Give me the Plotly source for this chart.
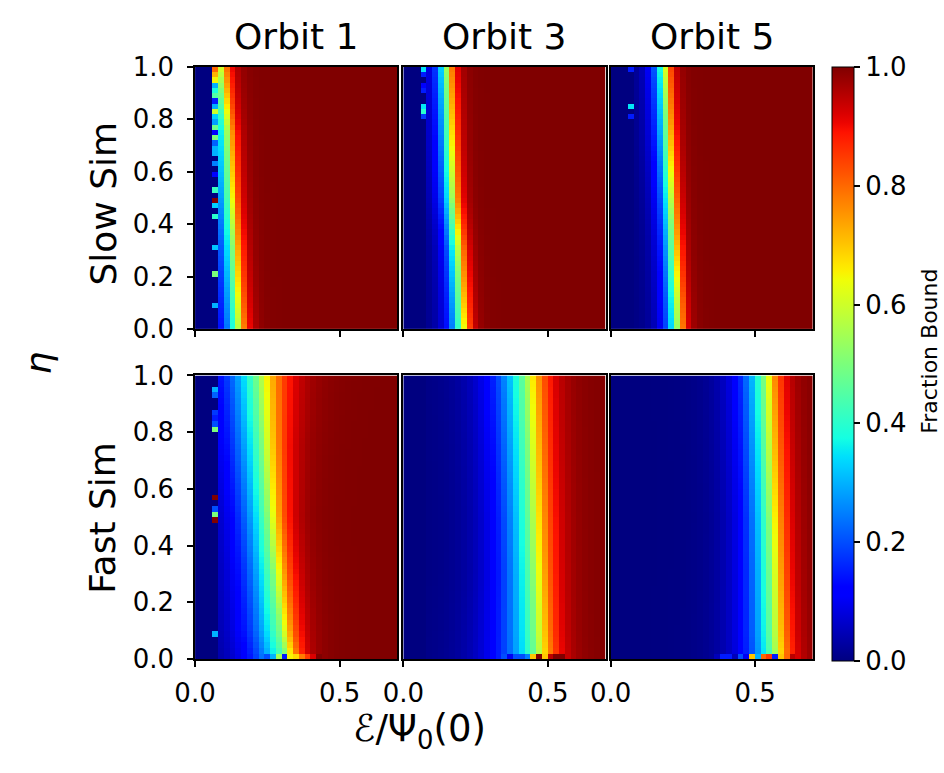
import numpy as np
import plotly.graph_objects as go

# ---------------- data ----------------
E_EDGES_MAX = 0.70          # energy axis E/Psi0(0): 35 bins of width 0.02
N_E = 35
N_ETA = 50                  # eta: 50 bins of width 0.02
ETA_KNOTS = [0.0, 0.1, 0.3, 0.5, 0.75, 1.0]

# transition (fraction bound = 0.5) location at the eta knots, and
# low-side / high-side widths, per panel
slow_o1_center = [0.145, 0.140, 0.130, 0.118, 0.107, 0.080]
slow_o1_wlo = [0.030, 0.030, 0.030, 0.030, 0.030, 0.028]
slow_o1_whi = [0.020, 0.020, 0.020, 0.020, 0.020, 0.022]

slow_o3_center = [0.200, 0.195, 0.185, 0.167, 0.157, 0.147]
slow_o3_wlo = [0.027, 0.026, 0.025, 0.025, 0.025, 0.024]
slow_o3_whi = [0.018, 0.018, 0.018, 0.018, 0.018, 0.018]

slow_o5_center = [0.228, 0.225, 0.215, 0.205, 0.193, 0.182]
slow_o5_wlo = [0.026, 0.026, 0.025, 0.025, 0.025, 0.024]
slow_o5_whi = [0.017, 0.017, 0.017, 0.017, 0.017, 0.017]

fast_o1_center = [0.315, 0.293, 0.270, 0.250, 0.232, 0.215]
fast_o1_wlo = [0.070, 0.068, 0.064, 0.062, 0.066, 0.070]
fast_o1_whi = [0.030, 0.035, 0.037, 0.038, 0.045, 0.055]

fast_o3_center = [0.460, 0.455, 0.447, 0.440, 0.430, 0.420]
fast_o3_wlo = [0.075, 0.072, 0.066, 0.064, 0.064, 0.065]
fast_o3_whi = [0.040, 0.040, 0.041, 0.042, 0.043, 0.044]

fast_o5_center = [0.565, 0.560, 0.555, 0.549, 0.540, 0.531]
fast_o5_wlo = [0.055, 0.054, 0.052, 0.050, 0.050, 0.050]
fast_o5_whi = [0.034, 0.034, 0.033, 0.033, 0.033, 0.033]

# isolated cells in the lowest populated energy bin (E/Psi0 = 0.06-0.08)
slow_o1_col3_eta = [0.99, 0.97, 0.95, 0.93, 0.91, 0.89, 0.87, 0.85, 0.83, 0.81,
                    0.79, 0.77, 0.75, 0.73, 0.71, 0.69, 0.67, 0.63, 0.59, 0.53,
                    0.49, 0.47, 0.43, 0.31, 0.21, 0.09]
slow_o1_col3_val = [0.80, 0.72, 0.65, 0.30, 0.38, 0.45, 0.15, 0.30, 0.60, 0.33,
                    0.28, 0.48, 0.12, 0.50, 0.22, 0.30, 0.30, 0.25, 0.12, 0.42,
                    1.00, 0.33, 0.40, 0.32, 0.50, 0.30]
slow_o3_col3_eta = [0.99, 0.97, 0.93, 0.91, 0.85, 0.83, 0.81]
slow_o3_col3_val = [0.35, 0.15, 0.12, 0.15, 0.35, 0.40, 0.18]
slow_o5_col3_eta = [0.99, 0.85, 0.81]
slow_o5_col3_val = [0.15, 0.35, 0.15]
fast_o1_col3_eta = [0.95, 0.93, 0.87, 0.85, 0.83, 0.81, 0.57, 0.53, 0.51, 0.49, 0.09]
fast_o1_col3_val = [0.30, 0.22, 0.18, 0.15, 0.20, 0.50, 1.00, 0.20, 0.50, 1.00, 0.30]

# lowest eta row (0-0.02) of the fast runs, which is noisy
fast_o1_row0_start = 12
fast_o1_row0_val = [0.20, 0.30, 0.55, 0.15, 0.65, 0.68, 0.78, 0.85, 0.92, 1.00]
fast_o3_row0_start = 17
fast_o3_row0_val = [0.20, 0.10, 0.20, 0.20, 0.25, 0.70, 1.00, 0.70, 0.95, 1.00, 1.00]
fast_o5_row0_start = 18
fast_o5_row0_val = [0.05, 0.15, 0.15, 0.05, 0.20, 0.10, 0.70, 0.30, 0.80, 0.85,
                    0.15, 0.70, 0.80, 0.95]

FIRST_BIN = 3               # bins below E/Psi0 = 0.06 are empty
orbit_titles = ["Orbit 1", "Orbit 3", "Orbit 5"]
row_titles = ["Slow Sim", "Fast Sim"]
y_ticks = [0.0, 0.2, 0.4, 0.6, 0.8, 1.0]
x_ticks = [0.0, 0.5]
cbar_ticks = [0.0, 0.2, 0.4, 0.6, 0.8, 1.0]

# ---------------- build grids ----------------
e_c = (np.arange(N_E) + 0.5) * (E_EDGES_MAX / N_E)
eta_c = (np.arange(N_ETA) + 0.5) / N_ETA


def panel(center, wlo, whi, col3_eta=None, col3_val=None, row0_start=None, row0_val=None):
    z = np.zeros((N_ETA, N_E))
    for r, eta in enumerate(eta_c):
        c = np.interp(eta, ETA_KNOTS, center)
        lo = np.interp(eta, ETA_KNOTS, wlo)
        hi = np.interp(eta, ETA_KNOTS, whi)
        d = e_c - c
        w = np.where(d < 0, lo, hi)
        z[r] = 1.0 / (1.0 + np.exp(-d / w))
    z[:, :FIRST_BIN + 1] = 0.0
    if col3_eta is not None:
        for e, v in zip(col3_eta, col3_val):
            z[int(e * N_ETA), FIRST_BIN] = v
    if row0_val is not None:
        for i, v in enumerate(row0_val):
            z[0, row0_start + i] = v
    return z


Z = [
    [panel(slow_o1_center, slow_o1_wlo, slow_o1_whi, slow_o1_col3_eta, slow_o1_col3_val),
     panel(slow_o3_center, slow_o3_wlo, slow_o3_whi, slow_o3_col3_eta, slow_o3_col3_val),
     panel(slow_o5_center, slow_o5_wlo, slow_o5_whi, slow_o5_col3_eta, slow_o5_col3_val)],
    [panel(fast_o1_center, fast_o1_wlo, fast_o1_whi, fast_o1_col3_eta, fast_o1_col3_val,
           fast_o1_row0_start, fast_o1_row0_val),
     panel(fast_o3_center, fast_o3_wlo, fast_o3_whi, None, None,
           fast_o3_row0_start, fast_o3_row0_val),
     panel(fast_o5_center, fast_o5_wlo, fast_o5_whi, None, None,
           fast_o5_row0_start, fast_o5_row0_val)],
]


# matplotlib "jet" colormap
def jet_scale(n=65):
    s = np.linspace(0, 1, n)
    r = np.interp(s, [0, 0.35, 0.66, 0.89, 1], [0, 0, 1, 1, 0.5])
    g = np.interp(s, [0, 0.125, 0.375, 0.64, 0.91, 1], [0, 0, 1, 1, 0, 0])
    b = np.interp(s, [0, 0.11, 0.34, 0.65, 1], [0.5, 1, 1, 0, 0])
    return [[float(v), f"rgb({int(round(rr*255))},{int(round(gg*255))},{int(round(bb*255))})"]
            for v, rr, gg, bb in zip(s, r, g, b)]


# ---------------- figure ----------------
W, H = 944, 773
FONT = "DejaVu Sans"
TICK = 26
BIG = 36


def px(x):
    return x / W


def py(y):
    return 1 - y / H


x_dom = [(178, 385), (391, 598), (603, 810)]
y_dom = [(54, 327), (375, 670)]
CB_TOP, CB_BOT = 54, 672

fig = go.Figure()
k = 0
for i in range(2):
    for j in range(3):
        k += 1
        xa = "x" if k == 1 else f"x{k}"
        ya = "y" if k == 1 else f"y{k}"
        fig.add_trace(go.Heatmap(
            z=Z[i][j], x=e_c, y=eta_c, coloraxis="coloraxis",
            xaxis=xa, yaxis=ya, hoverinfo="skip"))
        xkey = "xaxis" if k == 1 else f"xaxis{k}"
        ykey = "yaxis" if k == 1 else f"yaxis{k}"
        fig.layout[xkey] = dict(
            domain=[px(x_dom[j][0]), px(x_dom[j][1])], anchor=ya,
            range=[0, E_EDGES_MAX], tickvals=x_ticks, tickformat=".1f",
            showticklabels=(i == 1), ticks="outside", ticklen=6, tickwidth=1.5,
            tickcolor="black", showline=True, mirror=True, linecolor="black",
            linewidth=1.5, showgrid=False, zeroline=False, ticklabelstandoff=4,
            tickfont=dict(family=FONT, size=TICK, color="black"))
        fig.layout[ykey] = dict(
            domain=[py(y_dom[i][1]), py(y_dom[i][0])], anchor=xa,
            range=[0, 1], tickvals=y_ticks, tickformat=".1f",
            showticklabels=(j == 0), ticks=("outside" if j == 0 else ""),
            ticklen=6, tickwidth=1.5, tickcolor="black",
            showline=True, mirror=True, linecolor="black", linewidth=1.5,
            showgrid=False, zeroline=False, ticklabelstandoff=8,
            tickfont=dict(family=FONT, size=TICK, color="black"))

fig.update_layout(
    width=W, height=H, margin=dict(l=0, r=0, t=0, b=0),
    paper_bgcolor="white", plot_bgcolor="white",
    font=dict(family=FONT, color="black"),
    coloraxis=dict(
        colorscale=jet_scale(), cmin=0, cmax=1,
        colorbar=dict(
            x=px(829), xanchor="left", xpad=0, ypad=0,
            y=py((CB_TOP + CB_BOT) / 2), yanchor="middle",
            len=(CB_BOT - CB_TOP) / H, lenmode="fraction",
            thickness=22, thicknessmode="pixels",
            outlinewidth=1, outlinecolor="black",
            tickvals=cbar_ticks, tickformat=".1f", ticks="outside", ticklen=6,
            tickwidth=1.5, tickcolor="black",
            tickfont=dict(family=FONT, size=TICK, color="black"))),
)

ann = []
for j, t in enumerate(orbit_titles):
    ann.append(dict(text=t, x=px((x_dom[j][0] + x_dom[j][1]) / 2), y=py(22),
                    xref="paper", yref="paper", showarrow=False,
                    xanchor="center", yanchor="middle",
                    font=dict(family=FONT, size=BIG, color="black")))
row_label_y = [196, 523]
for i, t in enumerate(row_titles):
    ann.append(dict(text=t, x=px(84), y=py(row_label_y[i]),
                    xref="paper", yref="paper", showarrow=False, textangle=-90,
                    xanchor="center", yanchor="middle",
                    font=dict(family=FONT, size=BIG, color="black")))
ann.append(dict(text="<i>η</i>", x=px(18), y=py(362), xref="paper", yref="paper",
                showarrow=False, xanchor="center", yanchor="middle", textangle=-90,
                font=dict(family=FONT, size=BIG, color="black")))
ann.append(dict(text="ℰ/Ψ<sub>0</sub>(0)", x=px(408), y=py(745), xref="paper",
                yref="paper", showarrow=False, xanchor="center", yanchor="middle",
                font=dict(family=FONT, size=37, color="black")))
ann.append(dict(text="Fraction Bound", x=px(929), y=py(350), xref="paper",
                yref="paper", showarrow=False, xanchor="center", yanchor="middle",
                textangle=-90, font=dict(family=FONT, size=22, color="black")))
fig.update_layout(annotations=ann)

fig.write_html("out.html")
